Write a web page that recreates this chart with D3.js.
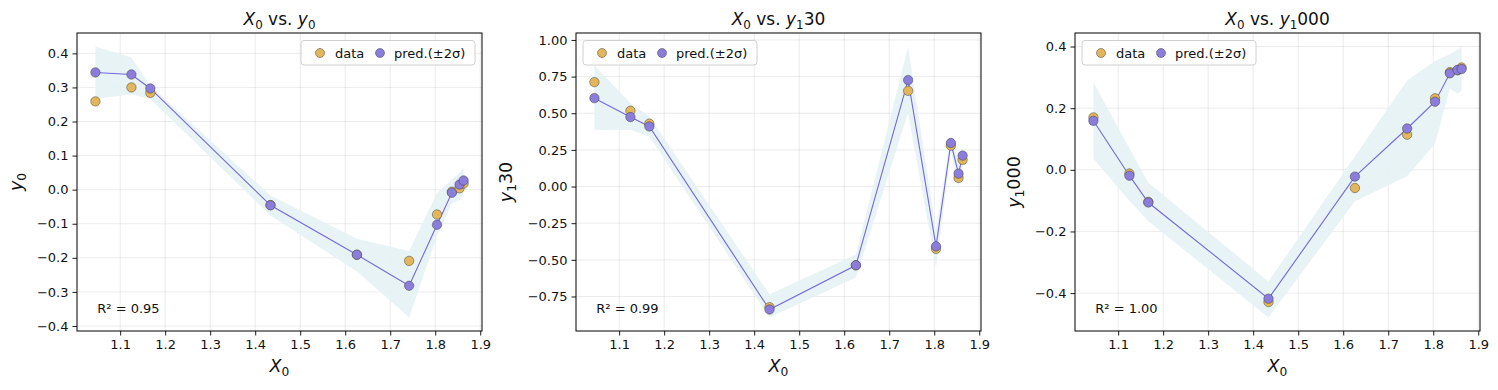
<!DOCTYPE html>
<html>
<head>
<meta charset="utf-8">
<script src="https://cdn.jsdelivr.net/npm/d3@7"></script>
<style>
  body { margin: 0; background: #fff; }
  svg { display: block; font-family: 'DejaVu Sans', sans-serif; }
</style>
</head>
<body>
<svg id="chart" width="1498" height="390"></svg>
<script>
// shared inputs
let xVals = [1.045, 1.125, 1.167, 1.434, 1.626, 1.742, 1.804, 1.837, 1.854, 1.863]

// y0
let y0Data  = [0.259, 0.300, 0.284, -0.045, -0.191, -0.209, -0.073, -0.006, 0.004, 0.018]
let y0Pred  = [0.344, 0.338, 0.297, -0.046, -0.191, -0.282, -0.103, -0.009, 0.015, 0.027]
let y0Upper = [0.420, 0.388, 0.305, -0.017, -0.144, -0.180, -0.010, 0.030, 0.050, 0.066]
let y0Lower = [0.266, 0.280, 0.266, -0.076, -0.240, -0.375, -0.136, -0.040, -0.030, -0.010]

// y1_30
let y130Data  = [0.712, 0.517, 0.429, -0.823, -0.537, 0.653, -0.425, 0.279, 0.059, 0.182]
let y130Pred  = [0.603, 0.474, 0.410, -0.839, -0.537, 0.726, -0.408, 0.297, 0.088, 0.211]
let y130Upper = [0.825, 0.570, 0.478, -0.735, -0.463, 0.955, -0.300, 0.354, 0.170, 0.279]
let y130Lower = [0.388, 0.388, 0.342, -0.893, -0.621, 0.501, -0.553, 0.240, -0.002, 0.140]

// y1_000
let y1000Data  = [0.170, -0.012, -0.104, -0.429, -0.059, 0.114, 0.232, 0.317, 0.323, 0.332]
let y1000Pred  = [0.159, -0.019, -0.106, -0.418, -0.022, 0.134, 0.221, 0.313, 0.324, 0.327]
let y1000Upper = [0.283, 0.070, -0.042, -0.362, 0.044, 0.290, 0.353, 0.375, 0.390, 0.400]
let y1000Lower = [0.036, -0.100, -0.167, -0.479, -0.102, -0.021, 0.085, 0.263, 0.248, 0.256]

let r2Labels = ['R² = 0.95', 'R² = 0.99', 'R² = 1.00']

let y0Ticks = [-0.4, -0.3, -0.2, -0.1, 0, 0.1, 0.2, 0.3, 0.4]
let y130Ticks = [-0.75, -0.5, -0.25, 0, 0.25, 0.5, 0.75, 1.0]
let y1000Ticks = [-0.4, -0.2, 0, 0.2, 0.4]
let xTicks = [1.1, 1.2, 1.3, 1.4, 1.5, 1.6, 1.7, 1.8, 1.9]

let panels = [
	{ sub: '0', rest: '', data: y0Data, pred: y0Pred, upper: y0Upper, lower: y0Lower,
		ticks: y0Ticks, fmt: '.1f', r2: r2Labels[0], left: 77, legend: 'right', ylabX: -55 },
	{ sub: '1', rest: '30', data: y130Data, pred: y130Pred, upper: y130Upper, lower: y130Lower,
		ticks: y130Ticks, fmt: '.2f', r2: r2Labels[1], left: 576, legend: 'left', ylabX: -64 },
	{ sub: '1', rest: '000', data: y1000Data, pred: y1000Pred, upper: y1000Upper, lower: y1000Lower,
		ticks: y1000Ticks, fmt: '.1f', r2: r2Labels[2], left: 1075, legend: 'left', ylabX: -55 }
]

let width = 405
let height = 298
let marginTop = 33

let dataColor = '#e3b65b'
let predColor = '#8a7ddb'
let lineColor = '#7468dc'
let bandColor = '#e4f2f4'
let textColor = '#111'

let svg = d3.select('#chart')

// matplotlib-like 5% margins
let pad = ext => {
	let m = (ext[1] - ext[0]) * 0.05
	return [ext[0] - m, ext[1] + m]
}

// writes "X₀" style math text into a text node
let mathText = (sel, parts) => {
	parts.forEach(p => {
		let t = sel.append('tspan').text(p.t)
		if (p.italic) t.attr('font-style', 'italic')
		if (p.sub) t.attr('font-size', '70%').attr('dy', 3.5)
		if (p.back) t.attr('dy', -3.5)
	})
}

panels.forEach(p => {

	let g = svg.append('g')
		.attr('transform', `translate(${p.left},${marginTop})`)

	let x = d3.scaleLinear()
		.domain(pad(d3.extent(xVals)))
		.range([0, width])

	let y = d3.scaleLinear()
		.domain(pad([d3.min(p.lower), d3.max(p.upper)]))
		.range([height, 0])

	// grid
	g.append('g')
		.selectAll('line')
		.data(xTicks)
		.enter()
		.append('line')
		.attr('x1', d => x(d)).attr('x2', d => x(d))
		.attr('y1', 0).attr('y2', height)
		.attr('stroke', '#b0b0b0').attr('stroke-opacity', 0.3).attr('stroke-width', 0.8)

	g.append('g')
		.selectAll('line')
		.data(p.ticks)
		.enter()
		.append('line')
		.attr('x1', 0).attr('x2', width)
		.attr('y1', d => y(d)).attr('y2', d => y(d))
		.attr('stroke', '#b0b0b0').attr('stroke-opacity', 0.3).attr('stroke-width', 0.8)

	let idx = d3.range(xVals.length)

	// ±2σ band
	g.append('path')
		.datum(idx)
		.attr('d', d3.area()
			.x(i => x(xVals[i]))
			.y0(i => y(p.lower[i]))
			.y1(i => y(p.upper[i])))
		.attr('fill', bandColor)
		.attr('fill-opacity', 0.9)

	// prediction line
	g.append('path')
		.datum(idx)
		.attr('d', d3.line()
			.x(i => x(xVals[i]))
			.y(i => y(p.pred[i])))
		.attr('fill', 'none')
		.attr('stroke', lineColor)
		.attr('stroke-width', 1.1)

	g.append('g')
		.selectAll('circle')
		.data(idx)
		.enter()
		.append('circle')
		.attr('cx', i => x(xVals[i]))
		.attr('cy', i => y(p.data[i]))
		.attr('r', 4.7)
		.attr('fill', dataColor)
		.attr('stroke', '#3a3a3a')
		.attr('stroke-opacity', 0.8)
		.attr('stroke-width', 0.6)

	g.append('g')
		.selectAll('circle')
		.data(idx)
		.enter()
		.append('circle')
		.attr('cx', i => x(xVals[i]))
		.attr('cy', i => y(p.pred[i]))
		.attr('r', 4.7)
		.attr('fill', predColor)
		.attr('stroke', '#3a3a3a')
		.attr('stroke-opacity', 0.8)
		.attr('stroke-width', 0.6)

	// axes
	let xAxis = g.append('g')
		.attr('transform', `translate(0,${height})`)
		.call(d3.axisBottom(x).tickValues(xTicks).tickFormat(d3.format('.1f')).tickSize(4.5).tickPadding(4))
	let yAxis = g.append('g')
		.call(d3.axisLeft(y).tickValues(p.ticks).tickFormat(d3.format(p.fmt)).tickSize(4.5).tickPadding(4))
	;[xAxis, yAxis].forEach(a => {
		a.attr('font-family', null).attr('font-size', 13)
		a.select('.domain').remove()
		a.selectAll('.tick line').attr('stroke', '#000').attr('stroke-width', 0.9)
		a.selectAll('.tick text').attr('fill', textColor)
	})

	g.append('rect')
		.attr('width', width).attr('height', height)
		.attr('fill', 'none').attr('stroke', '#000').attr('stroke-width', 1)

	// R² note
	g.append('text')
		.attr('x', width * 0.05)
		.attr('y', height - 18)
		.attr('font-size', 13)
		.attr('fill', textColor)
		.text(p.r2)

	// title
	let title = g.append('text')
		.attr('x', width / 2)
		.attr('y', -8)
		.attr('text-anchor', 'middle')
		.attr('font-size', 17)
		.attr('fill', textColor)
	mathText(title, [
		{ t: 'X', italic: true }, { t: '0', sub: true }, { t: ' vs. ', back: true },
		{ t: 'y', italic: true }, { t: p.sub, sub: true }, { t: p.rest, back: true }
	])

	let xl = g.append('text')
		.attr('x', width / 2)
		.attr('y', height + 41)
		.attr('text-anchor', 'middle')
		.attr('font-size', 17.5)
		.attr('fill', textColor)
	mathText(xl, [{ t: 'X', italic: true }, { t: '0', sub: true }])

	let yl = g.append('text')
		.attr('transform', `translate(${p.ylabX},${height / 2}) rotate(-90)`)
		.attr('text-anchor', 'middle')
		.attr('font-size', 17.5)
		.attr('fill', textColor)
	mathText(yl, [{ t: 'y', italic: true }, { t: p.sub, sub: true }, { t: p.rest, back: true }])

	// legend
	let lw = 174
	let lx = p.legend === 'right' ? width - 7 - lw : 7
	let leg = g.append('g').attr('transform', `translate(${lx},7.5)`)
	leg.append('rect')
		.attr('width', lw).attr('height', 24.5).attr('rx', 3)
		.attr('fill', '#fff').attr('fill-opacity', 0.8)
		.attr('stroke', '#d0d0d0').attr('stroke-width', 1)
	let items = [
		{ label: 'data', color: dataColor, dx: 19, tx: 34 },
		{ label: 'pred.(±2σ)', color: predColor, dx: 79, tx: 93 }
	]
	items.forEach(it => {
		leg.append('circle')
			.attr('cx', it.dx).attr('cy', 12.5).attr('r', 4.5)
			.attr('fill', it.color)
			.attr('stroke', '#3a3a3a').attr('stroke-opacity', 0.8).attr('stroke-width', 0.6)
		leg.append('text')
			.attr('x', it.tx).attr('y', 17)
			.attr('font-size', 13)
			.attr('fill', textColor)
			.text(it.label)
	})
})
</script>
</body>
</html>
